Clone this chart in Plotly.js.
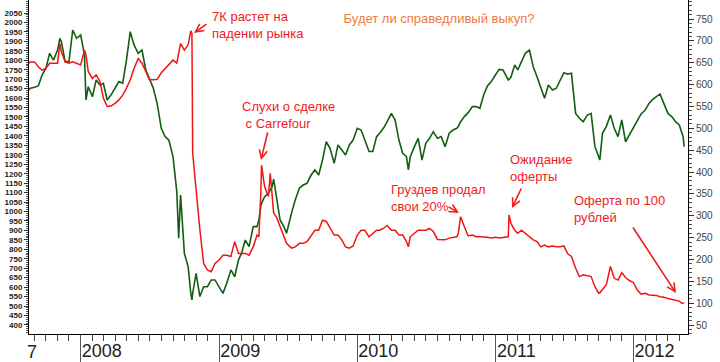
<!DOCTYPE html>
<html>
<head>
<meta charset="utf-8">
<script src="https://cdn.plot.ly/plotly-3.0.1.min.js"></script>
<style>html,body{margin:0;padding:0;background:#fff;}#chart{width:720px;height:362px;}</style>
</head>
<body>
<div id="chart"></div>
<script>
// ---- data ----
const dates = [
  '2007-08-17','2007-08-21','2007-09-01','2007-09-11','2007-09-21','2007-10-01','2007-10-11','2007-10-21','2007-11-01','2007-11-07','2007-11-11','2007-11-21','2007-12-01','2007-12-11','2007-12-21',
  '2008-01-01','2008-01-11','2008-01-15','2008-01-21','2008-02-01','2008-02-11','2008-02-21','2008-03-01','2008-03-11','2008-03-21','2008-04-01','2008-04-11','2008-04-21','2008-05-01','2008-05-11','2008-05-21','2008-06-01','2008-06-11','2008-06-21','2008-07-01','2008-07-11','2008-07-21','2008-08-01','2008-08-11','2008-08-21','2008-09-01','2008-09-11','2008-09-16','2008-09-21','2008-10-01','2008-10-11','2008-10-18','2008-10-21','2008-10-23','2008-11-01','2008-11-11','2008-11-21','2008-12-01','2008-12-11','2008-12-21',
  '2009-01-01','2009-01-11','2009-01-21','2009-02-01','2009-02-11','2009-02-21','2009-03-01','2009-03-11','2009-03-21','2009-04-01','2009-04-11','2009-04-16','2009-04-21','2009-04-23','2009-05-01','2009-05-11','2009-05-16','2009-05-21','2009-05-25','2009-06-01','2009-06-11','2009-06-21','2009-06-28','2009-07-11','2009-07-21','2009-08-01','2009-08-11','2009-08-21','2009-09-01','2009-09-11','2009-09-21','2009-10-01','2009-10-11','2009-10-21','2009-11-01','2009-11-11','2009-11-21','2009-12-01','2009-12-11','2009-12-21',
  '2010-01-01','2010-01-11','2010-01-21','2010-02-01','2010-02-11','2010-02-21','2010-03-01','2010-03-11','2010-03-21','2010-04-01','2010-04-11','2010-04-21','2010-05-01','2010-05-11','2010-05-16','2010-05-21','2010-06-01','2010-06-11','2010-06-21','2010-07-01','2010-07-11','2010-07-21','2010-08-01','2010-08-11','2010-08-21','2010-09-01','2010-09-11','2010-09-21','2010-09-25','2010-10-01','2010-10-11','2010-10-21','2010-11-01','2010-11-11','2010-11-21','2010-12-01','2010-12-11','2010-12-21',
  '2011-01-01','2011-01-11','2011-01-21','2011-02-01','2011-02-04','2011-02-06','2011-02-11','2011-02-21','2011-03-01','2011-03-11','2011-03-21','2011-04-01','2011-04-11','2011-04-21','2011-05-01','2011-05-11','2011-05-21','2011-06-01','2011-06-11','2011-06-21','2011-07-01','2011-07-11','2011-07-21','2011-08-01','2011-08-11','2011-08-21','2011-09-01','2011-09-11','2011-09-21','2011-10-01','2011-10-04','2011-10-11','2011-10-21','2011-11-01','2011-11-11','2011-11-21','2011-12-01','2011-12-11','2011-12-21',
  '2012-01-01','2012-01-11','2012-01-21','2012-02-01','2012-02-11','2012-02-21','2012-03-01','2012-03-11','2012-03-21','2012-04-01','2012-04-11','2012-04-21','2012-05-01','2012-05-07','2012-05-11','2012-05-14'
];
// market index (green, left axis)
const marketIndex = [
  1643,1652,1657,1664,1722,1757,1837,1801,1854,1916,1898,1793,1793,1960,1916,
  1934,1828,1590,1660,1607,1696,1669,1678,1590,1616,1652,1687,1678,1801,1951,1881,1837,1854,1749,1696,1652,1572,1440,1396,1378,1290,1105,858,1087,779,708,567,532,567,673,550,602,602,638,638,
  602,567,620,691,655,743,779,849,814,920,920,955,1026,1043,1078,1096,1114,1131,1171,1078,955,920,885,990,1061,1123,1140,1149,1193,1220,1193,1272,1369,1334,1255,1352,1325,1299,1352,1378,
  1440,1431,1378,1317,1317,1396,1414,1440,1475,1519,1484,1378,1308,1290,1220,1290,1343,1387,1272,1361,1387,1422,1387,1396,1343,1414,1431,1440,1449,1475,1502,1523,1555,1555,1546,1616,1664,1687,
  1722,1752,1749,1704,1696,1699,1710,1775,1749,1793,1837,1854,1766,1713,1652,1599,1669,1643,1652,1696,1734,1727,1731,1519,1493,1475,1510,1519,1343,1290,1272,1414,1449,1510,1440,1396,1484,1369,1405,
  1440,1475,1516,1537,1572,1593,1607,1622,1572,1519,1502,1475,1458,1414,1396,1343
];
// 7K share price (red, right axis)
const sevenK = [
  649,652,652,641,633,637,649,649,649,694,675,652,649,652,649,
  645,679,668,630,614,622,607,569,550,551,557,565,576,592,611,637,660,649,630,611,611,612,627,637,645,656,649,672,694,679,691,723,717,443,359,268,191,176,172,191,
  199,210,210,207,241,214,214,214,210,229,256,252,351,416,367,344,397,336,306,298,275,256,237,226,229,237,237,241,256,267,267,290,287,271,256,256,245,229,226,231,
  256,267,267,252,260,267,267,271,278,267,267,256,256,241,229,252,260,267,267,267,271,264,246,245,245,249,251,252,260,298,275,254,256,252,252,252,251,249,
  251,249,250,251,252,302,283,267,260,267,260,251,245,241,229,233,229,231,229,229,231,213,207,180,161,165,162,161,138,123,124,132,142,184,157,153,170,159,152,
  147,130,121,123,119,119,118,115,114,111,109,107,105,100,101,101
];
const yearTicks = ['2008-01-01','2009-01-01','2010-01-01','2011-01-01','2012-01-01'];
const yearLabels = ['2008','2009','2010','2011','2012'];
const leftTicks = [400,450,500,550,600,650,700,750,800,850,900,950,1000,1050,1100,1150,1200,1250,1300,1350,1400,1450,1500,1550,1600,1650,1700,1750,1800,1850,1900,1950,2000,2050];
const rightTicks = [50,100,150,200,250,300,350,400,450,500,550,600,650,700,750];
const titleText = 'Будет ли справедливый выкуп?';
const notes = [
  '7К растет на<br>падении рынка',
  'Слухи о сделке<br> с Carrefour',
  'Груздев продал<br>свои 20%',
  'Ожидание<br>оферты',
  'Оферта по 100<br>рублей'
];

// ---- layout helpers (pixel placement of notes) ----
const PL = 29, PR = 688, PT = 0, PB = 334;
const fx = x => (x - PL) / (PR - PL);
const fy = y => (PB - y) / (PB - PT);
const RED = '#ee1c1c';
const notePos = [[212,24.5],[242,115],[391,197.5],[510,168],[574,209]];
const arrows = [ [[208,23],[194,33]], [[268,131],[261,160]], [[447,206],[459,213]], [[522,187],[512,208]], [[632,226],[676,293]] ];

const annotations = [];
notes.forEach((t, i) => {
  annotations.push({xref:'paper', yref:'paper', x: fx(notePos[i][0]), y: fy(notePos[i][1]),
    xanchor:'left', yanchor:'middle', align:'left', text:t, showarrow:false, xshift:-2,
    font:{family:'Liberation Sans, Arial, sans-serif', size:13, color:RED}});
});
arrows.forEach(a => {
  const tail = a[0], head = a[1];
  annotations.push({xref:'paper', yref:'paper', x: fx(head[0]), y: fy(head[1]),
    ax: tail[0]-head[0], ay: tail[1]-head[1], axref:'pixel', ayref:'pixel',
    text:'', showarrow:true, arrowhead:5, arrowsize:1, arrowwidth:1.6, arrowcolor:RED, standoff:0});
});
annotations.push({xref:'paper', yref:'paper', x: fx(25), y: fy(352), xanchor:'left', yanchor:'middle',
  text:'7', showarrow:false, font:{family:'Liberation Sans, Arial, sans-serif', size:18, color:'#222'}});

const traces = [
  {x: dates, y: marketIndex, type:'scatter', mode:'lines', yaxis:'y',
   line:{color:'#125e12', width:1.6}, hoverinfo:'skip'},
  {x: dates, y: sevenK, type:'scatter', mode:'lines', yaxis:'y2',
   line:{color:'#f01414', width:1.5}, hoverinfo:'skip'}
];

const layout = {
  width:720, height:362,
  margin:{l:PL, r:720-PR, t:PT, b:362-PB, pad:0},
  paper_bgcolor:'#fff', plot_bgcolor:'#fff',
  showlegend:false,
  font:{family:'Liberation Sans, Arial, sans-serif'},
  title:{text:titleText, x:439/720, xanchor:'center', y:1-18/362, yanchor:'middle',
         font:{family:'Liberation Sans, Arial, sans-serif', size:13, color:'#f07a40'}},
  xaxis:{type:'date', range:['2007-08-17 10:00','2012-05-24'], showgrid:false, zeroline:false,
    showline:true, linecolor:'#000', linewidth:1,
    tickmode:'array', tickvals:yearTicks, ticktext:yearLabels,
    ticks:'outside', ticklen:28, tickwidth:1, tickcolor:'#555',
    ticklabelstandoff:-28, ticklabelshift:21,
    tickfont:{size:18, color:'#222'},
    minor:{tickmode:'linear', tick0:'2007-01-01', dtick:'M1', ticks:'outside', ticklen:6, tickwidth:1, tickcolor:'#444', showgrid:false}},
  yaxis:{range:[352, 2118.8], showgrid:false, zeroline:false, showline:true, linecolor:'#000', linewidth:1,
    tickmode:'array', tickvals:leftTicks, ticks:'outside', ticklen:4, tickcolor:'#333',
    tickfont:{size:8, color:'#222', weight:'bold'},
    minor:{tickmode:'linear', tick0:0, dtick:10, ticks:'outside', ticklen:2, tickcolor:'#555'}},
  yaxis2:{range:[29.7, 793.5], overlaying:'y', side:'right', showgrid:false, zeroline:false,
    showline:true, linecolor:'#000', linewidth:1,
    tickmode:'array', tickvals:rightTicks, ticks:'outside', ticklen:5, tickcolor:'#333',
    tickfont:{size:10, color:'#444'},
    minor:{tickmode:'linear', tick0:0, dtick:10, ticks:'outside', ticklen:3, tickcolor:'#555'}},
  annotations: annotations
};

Plotly.newPlot('chart', traces, layout, {staticPlot:true, displayModeBar:false});
</script>
</body>
</html>
